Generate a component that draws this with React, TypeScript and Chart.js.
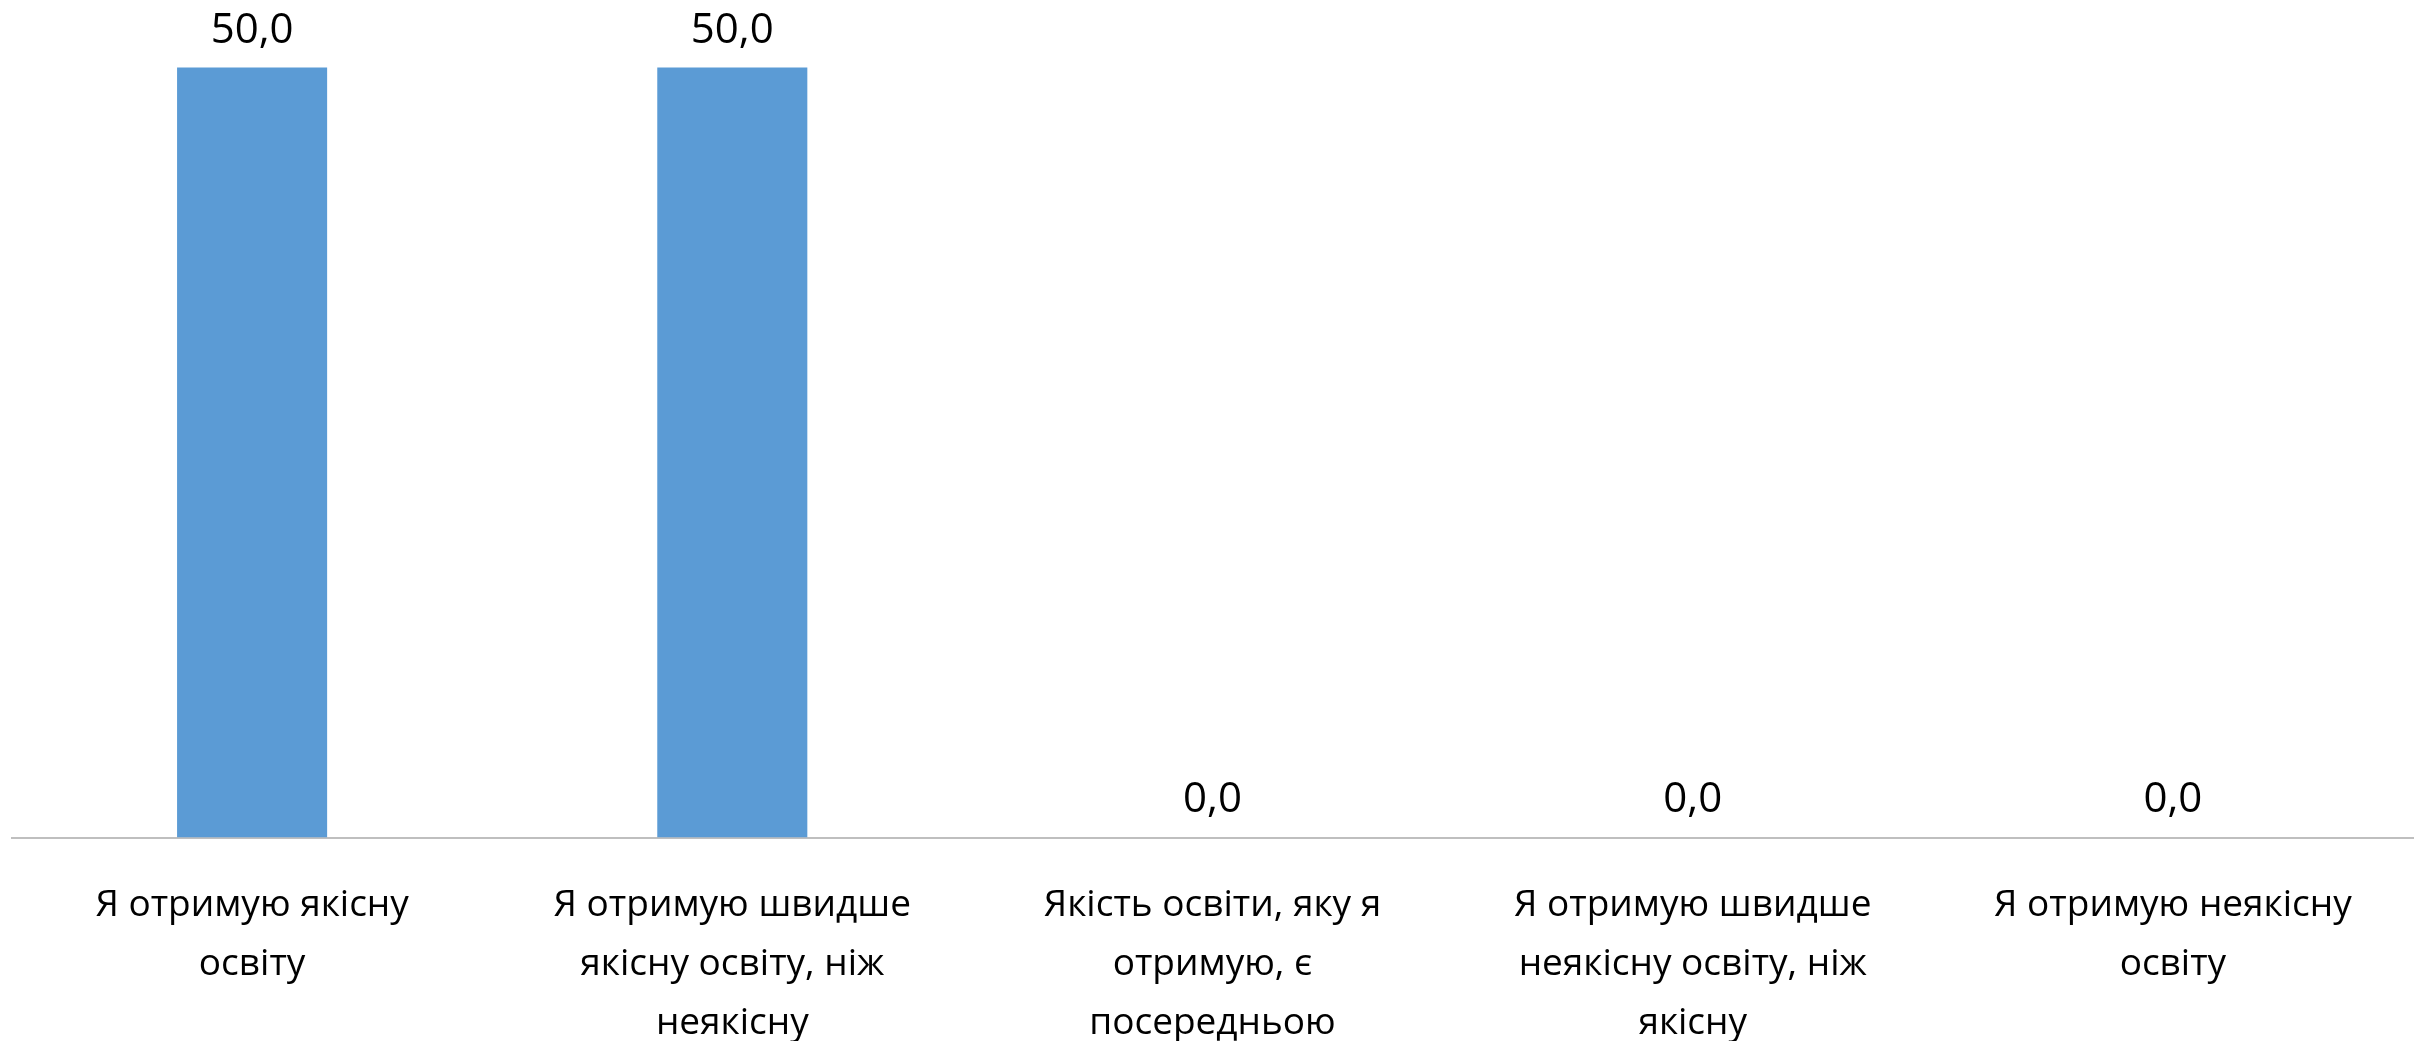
import React, { useEffect, useRef } from "react";
import { Chart, registerables } from "chart.js";

Chart.register(...registerables);

const categories: string[][] = [
  ["Я отримую якісну", "освіту"],
  ["Я отримую швидше", "якісну освіту, ніж", "неякісну"],
  ["Якість освіти, яку я", "отримую, є", "посередньою"],
  ["Я отримую швидше", "неякісну освіту, ніж", "якісну"],
  ["Я отримую неякісну", "освіту"],
];
const values: number[] = [50, 50, 0, 0, 0];
const yMax = 54;

const FONT = "'Open Sans', 'Noto Sans', sans-serif";

const valueLabelPlugin = {
  id: "valueLabels",
  afterDatasetsDraw(chart: any) {
    const ctx = chart.ctx;
    const meta = chart.getDatasetMeta(0);
    ctx.save();
    ctx.fillStyle = "#000000";
    ctx.font = `42px ${FONT}`;
    ctx.textAlign = "center";
    ctx.textBaseline = "middle";
    meta.data.forEach((bar: any, i: number) => {
      const v = values[i];
      ctx.fillText(v.toFixed(1).replace(".", ","), bar.x, bar.y - 37);
    });
    ctx.restore();
  },
};

export default function App() {
  const ref = useRef<HTMLCanvasElement | null>(null);
  useEffect(() => {
    if (!ref.current) return;
    const chart = new Chart(ref.current, {
      type: "bar",
      data: {
        labels: categories,
        datasets: [
          {
            data: values,
            backgroundColor: "#5B9BD5",
            borderWidth: 0,
            barPercentage: 0.3125,
            categoryPercentage: 1,
          },
        ],
      },
      options: {
        animation: false,
        responsive: false,
        maintainAspectRatio: false,
        layout: { padding: { left: 12, right: 12, top: 6, bottom: -50.5 } },
        plugins: {
          legend: { display: false },
          tooltip: { enabled: false },
        },
        scales: {
          x: {
            grid: { display: false, drawTicks: false },
            border: { display: true, color: "#BFBFBF", width: 2 },
            ticks: {
              color: "#000000",
              font: { family: FONT, size: 37, lineHeight: 59 / 37 },
              padding: 38.5,
              maxRotation: 0,
              autoSkip: false,
            },
          },
          y: {
            display: false,
            min: 0,
            max: yMax,
          },
        },
      },
      plugins: [valueLabelPlugin],
    });
    return () => chart.destroy();
  }, []);
  return (
    <div style={{ position: "fixed", left: 0, top: 0, width: 2425, height: 1041, background: "#fff" }}>
      <canvas ref={ref} width={2425} height={1041} style={{ display: "block" }} />
    </div>
  );
}
